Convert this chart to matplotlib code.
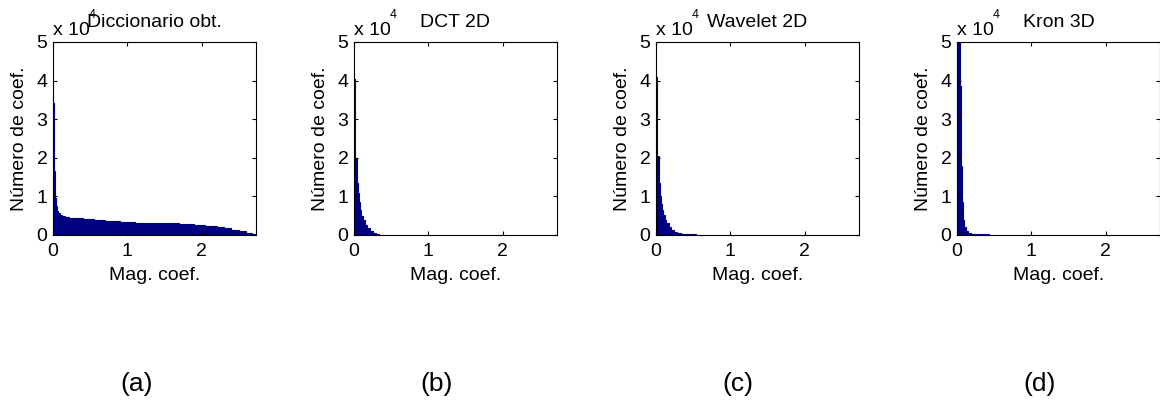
import numpy as np
import matplotlib.pyplot as plt

plt.rcParams['font.family'] = ['Liberation Sans', 'DejaVu Sans']

# histogram bins (x = magnitude of coefficient), heights in units of 10^4
edges_a = [0, 0.014, 0.027, 0.04, 0.055, 0.07, 0.09, 0.12, 0.16, 0.22, 0.3, 0.4, 0.55, 0.7,
           0.9, 1.1, 1.3, 1.5, 1.7, 1.9, 2.05, 2.2, 2.3, 2.4, 2.5, 2.6, 2.68, 2.73]
count_a = [3.42, 1.65, 0.95, 0.75, 0.62, 0.56, 0.52, 0.5, 0.47, 0.45, 0.43, 0.41, 0.39, 0.36,
           0.33, 0.32, 0.31, 0.30, 0.28, 0.26, 0.24, 0.21, 0.18, 0.14, 0.10, 0.06, 0.03]

edges_b = [0, 0.02, 0.045, 0.055, 0.065, 0.08, 0.1, 0.12, 0.15, 0.18, 0.21, 0.25, 0.29, 0.34]
count_b = [4.05, 2.0, 1.35, 1.1, 0.85, 0.65, 0.5, 0.38, 0.27, 0.18, 0.1, 0.05, 0.02]

edges_c = [0, 0.018, 0.036, 0.054, 0.07, 0.085, 0.1, 0.12, 0.14, 0.17, 0.2, 0.24, 0.28,
           0.33, 0.4, 0.54]
count_c = [4.1, 2.05, 1.35, 1.0, 0.8, 0.65, 0.52, 0.4, 0.3, 0.2, 0.13, 0.08, 0.04, 0.025, 0.02]

edges_d = [0, 0.036, 0.049, 0.062, 0.076, 0.089, 0.115, 0.147, 0.19, 0.435]
count_d = [5.3, 3.85, 1.8, 0.85, 0.4, 0.2, 0.1, 0.05, 0.02]

titles = ['Diccionario obt.', 'DCT 2D', 'Wavelet 2D', 'Kron 3D']
letras = ['(a)', '(b)', '(c)', '(d)']
datos = [(edges_a, count_a), (edges_b, count_b), (edges_c, count_c), (edges_d, count_d)]

W, H = 1160, 403
fig = plt.figure(figsize=(W / 100, H / 100), dpi=100)
lefts = [53, 354, 656, 957]
centros_letra = [137, 437, 738, 1040]

for i in range(4):
    ax = fig.add_axes([lefts[i] / W, 1 - 235 / H, 203 / W, 193 / H])
    edges, cnt = datos[i]
    ax.stairs(cnt, edges, fill=True, facecolor='#000080', edgecolor='#000080',
              linewidth=0.8)
    ax.set_xlim(0, 2.73)
    ax.set_ylim(0, 5)
    ax.set_xticks([0, 1, 2])
    ax.set_yticks([0, 1, 2, 3, 4, 5])
    ax.tick_params(direction='in', top=True, right=True, labelsize=14, length=3)
    ax.tick_params(axis='x', pad=6)
    ax.tick_params(axis='y', pad=4)
    ax.set_xlabel('Mag. coef.', fontsize=14, labelpad=5)
    ax.set_ylabel('Número de coef.', fontsize=14, labelpad=6)
    ax.set_title(titles[i], fontsize=14, pad=11)
    # factor de escala al estilo MATLAB
    ax.text(0.0, 1.0 + 7 / 193, 'x 10', transform=ax.transAxes, fontsize=14,
            ha='left', va='baseline')
    ax.text(39 / 203, 1.0 + 27 / 193, '4', transform=ax.transAxes, fontsize=9,
            ha='center', va='center')
    for s in ax.spines.values():
        s.set_linewidth(0.8)
    fig.text(centros_letra[i] / W, 1 - 384 / H, letras[i], fontsize=19,
             ha='center', va='center')

fig.savefig('out.png', dpi=100)
